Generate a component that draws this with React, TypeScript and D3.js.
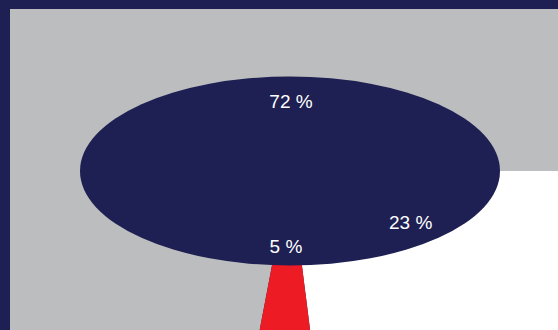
import React from "react";
import * as d3 from "d3";

const categories = ["A", "B", "C"];
const values = [72, 23, 5];
const labels = ["72 %", "23 %", "5 %"];
const colors = ["#bcbdbe", "#ffffff", "#ed1c24"];

const W = 558;
const H = 330;
const NAVY = "#1e1f52";

export default function App() {
  const cx = 290;
  const cy = 171;
  const rx = 210;
  const ry = 94.5;
  const total = d3.sum(values);
  const start = Math.PI / 2 - (values[0] / total) * 2 * Math.PI;
  const pie = d3
    .pie<number>()
    .sort(null)
    .startAngle(start)
    .endAngle(start + 2 * Math.PI);
  const arcs = pie(values);
  const arc = d3.arc<d3.PieArcDatum<number>>().innerRadius(0).outerRadius(900);
  const lrx = rx * 0.76;
  const lry = ry * 0.77;

  return (
    <svg
      width={W}
      height={H}
      style={{ position: "absolute", left: 0, top: 0, display: "block" }}
    >
      <defs>
        <clipPath id="plot">
          <rect x={10} y={9} width={W - 10} height={H - 9} />
        </clipPath>
      </defs>
      <rect x={0} y={0} width={W} height={H} fill={NAVY} />
      <g clipPath="url(#plot)">
        <g transform={`translate(${cx},${cy})`}>
          {arcs.map((a, i) => (
            <path key={categories[i]} d={arc(a) || ""} fill={colors[i]} />
          ))}
        </g>
      </g>
      <ellipse cx={cx} cy={cy} rx={rx} ry={ry} fill={NAVY} />
      {arcs.map((a, i) => {
        const v = values[i] / total;
        const ang = v > 0.5 ? 0 : (a.startAngle + a.endAngle) / 2;
        const x = cx + lrx * Math.sin(ang) + 1;
        const y = cy - lry * Math.cos(ang) + 3;
        return (
          <text
            key={"l" + categories[i]}
            x={x}
            y={y}
            dy="0.35em"
            textAnchor="middle"
            fill="#ffffff"
            fontFamily="Liberation Sans, Arial, sans-serif"
            fontSize={19}
          >
            {labels[i]}
          </text>
        );
      })}
    </svg>
  );
}
